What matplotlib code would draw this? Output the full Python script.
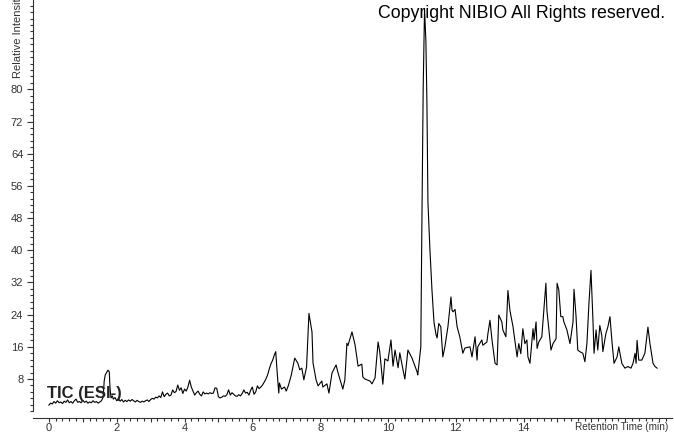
import numpy as np
from matplotlib import pyplot as plt

# TIC (ESI-) chromatogram
time = [0.0, 0.05, 0.1, 0.15, 0.2, 0.25, 0.3, 0.35, 0.4, 0.45, 0.5, 0.55, 0.6, 0.65, 0.7, 0.75,
        0.8, 0.85, 0.9, 0.95, 1.0, 1.05, 1.1, 1.15, 1.2, 1.25, 1.3, 1.35, 1.4, 1.45, 1.5, 1.55,
        1.6, 1.63, 1.66, 1.7, 1.74, 1.78, 1.8, 1.83, 1.87, 1.9, 1.95, 2.0, 2.05, 2.1, 2.15, 2.2,
        2.25, 2.3, 2.35, 2.4, 2.45, 2.5, 2.55, 2.6, 2.65, 2.7, 2.75, 2.8, 2.85, 2.9, 2.95, 3.0,
        3.05, 3.1, 3.15, 3.2, 3.25, 3.3, 3.35, 3.4, 3.45, 3.5, 3.55, 3.6, 3.65, 3.7, 3.75, 3.8,
        3.85, 3.9, 3.95, 4.0, 4.05, 4.1, 4.15, 4.2, 4.25, 4.3, 4.35, 4.4, 4.45, 4.5, 4.55, 4.6,
        4.65, 4.7, 4.75, 4.8, 4.85, 4.9, 4.95, 5.0, 5.05, 5.1, 5.15, 5.2, 5.25, 5.3, 5.35, 5.4,
        5.45, 5.5, 5.55, 5.6, 5.65, 5.7, 5.75, 5.8, 5.85, 5.9, 5.95, 6.0, 6.05, 6.1, 6.15, 6.2,
        6.25, 6.3, 6.35, 6.4, 6.45, 6.5, 6.55, 6.6, 6.65, 6.69, 6.73, 6.78, 6.8, 6.86, 6.95, 7.0,
        7.06, 7.15, 7.25, 7.34, 7.4, 7.46, 7.52, 7.6, 7.67, 7.76, 7.79, 7.88, 7.94, 8.05, 8.08, 8.2,
        8.26, 8.35, 8.47, 8.53, 8.64, 8.67, 8.73, 8.79, 8.82, 8.94, 9.03, 9.12, 9.23, 9.26, 9.32, 9.47,
        9.53, 9.62, 9.71, 9.76, 9.85, 9.91, 10.0, 10.09, 10.15, 10.21, 10.3, 10.35, 10.44, 10.5, 10.59, 10.71,
        10.86, 10.88, 10.97, 11.0, 11.04, 11.08, 11.12, 11.15, 11.18, 11.24, 11.3, 11.36, 11.42, 11.45, 11.5, 11.56,
        11.62, 11.68, 11.77, 11.86, 11.89, 11.92, 11.98, 12.04, 12.12, 12.21, 12.27, 12.42, 12.48, 12.51, 12.57, 12.63,
        12.65, 12.77, 12.8, 12.92, 12.95, 13.01, 13.07, 13.16, 13.22, 13.27, 13.36, 13.39, 13.48, 13.54, 13.6, 13.69,
        13.81, 13.86, 13.92, 13.98, 14.04, 14.1, 14.13, 14.19, 14.28, 14.31, 14.37, 14.4, 14.45, 14.54, 14.6, 14.66,
        14.69, 14.81, 14.87, 14.96, 14.99, 15.04, 15.1, 15.16, 15.19, 15.28, 15.37, 15.46, 15.49, 15.55, 15.6, 15.66,
        15.75, 15.81, 15.87, 15.93, 15.99, 16.05, 16.08, 16.14, 16.19, 16.25, 16.31, 16.34, 16.43, 16.49, 16.55, 16.61,
        16.67, 16.76, 16.81, 16.9, 16.99, 17.08, 17.17, 17.23, 17.29, 17.32, 17.35, 17.4, 17.49, 17.58, 17.67, 17.73,
        17.82, 17.88, 17.94]
intensity = [1.5, 2.0, 1.8, 2.4, 2.0, 2.6, 2.1, 2.3, 1.9, 2.5, 2.2, 2.8, 2.1, 2.4, 2.0, 2.6,
             3.0, 2.2, 2.4, 2.1, 2.7, 2.2, 2.5, 2.0, 2.3, 2.1, 2.6, 2.2, 2.4, 2.0, 2.3, 2.6,
             3.5, 7.5, 9.0, 9.6, 10.2, 9.8, 6.0, 3.3, 3.8, 3.0, 3.4, 2.6, 3.1, 2.5, 2.9, 2.3,
             2.7, 2.4, 2.8, 2.5, 2.9, 2.6, 2.3, 2.7, 2.4, 2.2, 2.5, 2.3, 2.6, 2.8, 2.4, 2.9,
             3.2, 3.0, 3.5, 3.3, 3.8, 3.4, 4.8, 3.6, 4.2, 4.5, 3.8, 4.0, 5.3, 4.6, 4.9, 6.5,
             5.2, 5.8, 4.4, 5.5, 5.0, 6.0, 7.7, 6.0, 5.0, 4.0, 4.6, 5.0, 4.2, 3.8, 4.8, 4.3,
             4.5, 4.3, 4.6, 4.4, 4.5, 5.8, 5.7, 3.6, 3.3, 3.5, 3.8, 3.7, 4.1, 5.3, 4.0, 4.6,
             4.2, 3.8, 3.7, 4.1, 3.8, 4.4, 5.3, 4.5, 4.7, 4.0, 5.2, 6.0, 4.2, 4.8, 6.3, 5.6,
             6.0, 6.5, 7.2, 8.0, 9.0, 10.5, 11.8, 12.7, 14.0, 14.8, 10.0, 4.5, 7.0, 5.5, 6.0, 5.0,
             6.3, 9.0, 13.2, 12.0, 10.3, 10.7, 7.8, 11.0, 24.3, 19.7, 12.0, 7.8, 6.3, 7.5, 6.0, 6.8,
             4.5, 9.5, 11.5, 9.5, 6.3, 5.5, 7.8, 16.9, 16.3, 19.7, 16.5, 11.2, 11.7, 8.5, 8.0, 7.5,
             6.8, 8.3, 17.2, 14.7, 6.7, 13.0, 12.5, 17.7, 11.2, 15.2, 10.8, 14.5, 10.5, 8.0, 15.2, 13.2,
             9.8, 9.0, 16.0, 45.0, 80.0, 100.0, 92.0, 77.0, 52.0, 40.0, 30.0, 22.0, 19.0, 18.2, 21.8, 21.0,
             13.5, 16.0, 21.0, 28.4, 25.1, 24.7, 25.3, 21.0, 18.5, 14.4, 15.7, 16.0, 13.5, 15.2, 18.5, 12.7,
             16.0, 17.7, 16.4, 17.2, 19.3, 22.6, 17.7, 11.9, 11.5, 23.9, 22.2, 20.2, 18.5, 30.0, 25.0, 21.0,
             13.5, 16.8, 14.3, 20.5, 16.8, 17.7, 13.5, 11.9, 20.5, 17.7, 22.2, 15.6, 17.2, 18.5, 25.1, 31.8,
             25.1, 15.2, 16.8, 18.0, 31.8, 30.2, 23.5, 23.5, 22.2, 20.2, 16.8, 22.2, 30.3, 23.5, 15.2, 14.8,
             14.4, 12.3, 16.8, 26.8, 35.0, 22.2, 14.4, 20.2, 15.2, 21.3, 18.8, 14.8, 19.3, 21.0, 23.5, 17.2,
             11.9, 13.5, 16.0, 11.9, 10.7, 11.1, 10.7, 11.9, 14.4, 11.9, 17.6, 12.7, 12.7, 14.4, 20.9, 16.8,
             11.9, 11.1, 10.7]

x_major = np.arange(0, 19, 1)
x_labels = ['0', '', '2', '', '4', '', '6', '', '8', '', '10', '', '12', '', '14', '', '', '', '']
y_major = [8, 16, 24, 32, 40, 48, 56, 64, 72, 80]

x_lo, x_hi = -0.47, 18.38
y_lo, y_hi = -1.69, 102.2

fig = plt.figure(figsize=(6.74, 4.34), dpi=100)
ax = fig.add_axes([33 / 674, 16 / 434, 639 / 674, 418 / 434])

ax.plot(time, intensity, color='black', linewidth=0.8)

ax.set_xlim(x_lo, x_hi)
ax.set_ylim(y_lo, y_hi)

ax.spines['top'].set_visible(False)
ax.spines['right'].set_visible(False)
ax.spines['left'].set_bounds(0, y_hi)
for s in ('left', 'bottom'):
    ax.spines[s].set_linewidth(0.8)
    ax.spines[s].set_color('#333333')

ax.set_xticks(x_major)
ax.set_xticklabels(x_labels)
ax.set_xticks(np.arange(0, 18.4, 0.2), minor=True)
ax.set_yticks(y_major)
ax.set_yticks(np.arange(0, y_hi, 1.6), minor=True)

ax.tick_params(axis='y', which='major', length=4, width=0.8, color='#333333',
               labelsize=8, labelcolor='#333333', pad=3)
ax.tick_params(axis='x', which='major', length=3, width=0.8, color='#333333',
               labelsize=8, labelcolor='#333333', pad=0.5)
ax.tick_params(axis='both', which='minor', length=2, width=0.8, color='#333333')
for lab in ax.get_xticklabels() + ax.get_yticklabels():
    lab.set_family('Liberation Sans')

fig.text(622 / 674, 1 - 427 / 434, 'Retention Time (min)', fontsize=7.2,
         family='Liberation Sans', color='#333333', ha='center', va='center')
fig.text(18 / 674, 1 - 78 / 434, 'Relative Intensity', fontsize=8, rotation=90,
         family='Liberation Sans', color='#333333', ha='center', va='bottom')
fig.text(522 / 674, 1 - 14 / 434, 'Copyright NIBIO All Rights reserved.', fontsize=12.8,
         family='Liberation Sans', color='black', ha='center', va='center')
ax.text(-0.07, 4.4, 'TIC (ESI-)', fontsize=12, fontweight='bold',
        family='Liberation Sans', color='#222222', ha='left', va='center')

fig.savefig('out.png', dpi=100)
